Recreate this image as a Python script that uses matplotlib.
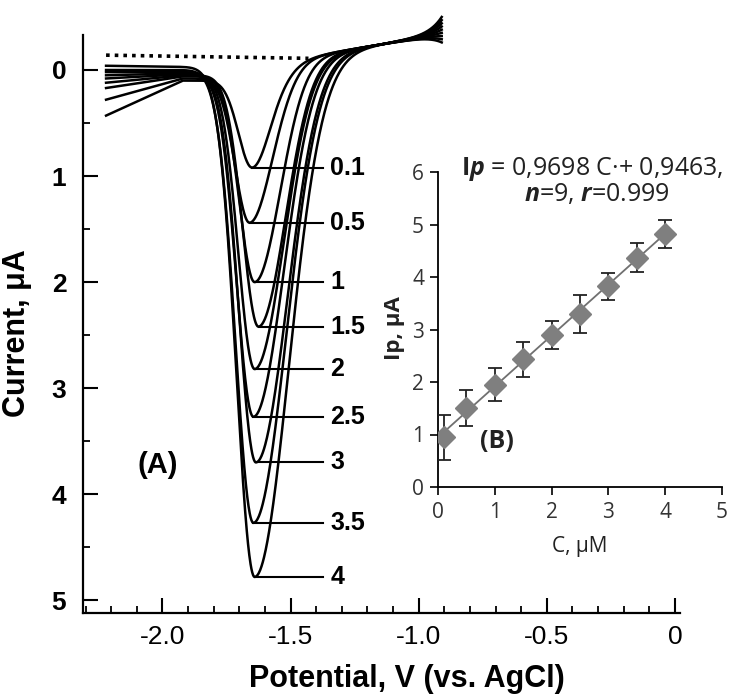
import numpy as np
import matplotlib.pyplot as plt
from matplotlib.ticker import MultipleLocator

# concentrations (uM) and the peaks
conc = [0.1, 0.5, 1, 1.5, 2, 2.5, 3, 3.5, 4]
conc_labels = ['0.1', '0.5', '1', '1.5', '2', '2.5', '3', '3.5', '4']
peak_current = [0.92, 1.44, 2.0, 2.42, 2.82, 3.27, 3.70, 4.27, 4.78]
peak_potential = [-1.65, -1.66, -1.64, -1.625, -1.64, -1.645, -1.635, -1.645, -1.64]
left_width = [0.075, 0.08, 0.085, 0.088, 0.09, 0.093, 0.095, 0.098, 0.10]
right_width = [0.095, 0.12, 0.135, 0.145, 0.155, 0.163, 0.17, 0.178, 0.185]
start_current = [0.43, 0.28, 0.17, 0.12, 0.08, 0.05, 0.02, 0.0, -0.04]
plateau_current = [0.10, 0.08, 0.06, 0.05, 0.04, 0.03, 0.02, 0.0, -0.03]
end_current = [-0.26, -0.29, -0.32, -0.35, -0.38, -0.41, -0.44, -0.47, -0.50]
blank_potential = [-2.22, -1.43]
blank_current = [-0.14, -0.11]

# calibration plot (panel B)
cal_ip = [0.95, 1.50, 1.95, 2.43, 2.90, 3.30, 3.82, 4.37, 4.82]
cal_err = [0.43, 0.34, 0.31, 0.33, 0.27, 0.36, 0.25, 0.27, 0.27]
slope, intercept = 0.9698, 0.9463

inset_font = 'Open Sans'
plt.rcParams['font.family'] = ['Liberation Sans', 'DejaVu Sans']
plt.rcParams['mathtext.fontset'] = 'custom'
plt.rcParams['mathtext.rm'] = inset_font
plt.rcParams['mathtext.it'] = inset_font + ':italic'
plt.rcParams['mathtext.bf'] = inset_font + ':bold'
plt.rcParams['mathtext.bfit'] = inset_font + ':italic:bold'

fig = plt.figure(figsize=(7.3, 6.96), dpi=100)
ax = fig.add_axes([83/730, 83/696, 597/730, 578/696])

E = np.linspace(-2.22, -0.91, 800)
for i in range(len(conc)):
	pre = plateau_current[i] + (start_current[i] - plateau_current[i]) * np.clip((-1.92 - E) / 0.30, 0, None)
	post = -0.12 - 0.4 * (E + 1.45) + (end_current[i] + 0.336) * np.exp((E + 0.91) / 0.05)
	w = 1 / (1 + np.exp(-(E + 1.5) / 0.04))
	base = pre * (1 - w) + post * w
	ep = peak_potential[i]
	b_ep = np.interp(ep, E, base)
	d = E - ep
	width = np.where(d < 0, left_width[i], right_width[i])
	y = base + (peak_current[i] - b_ep) * np.exp(-(d / width) ** 2)
	ax.plot(E, y, color='black', lw=1.8, clip_on=False)
	ax.plot([ep, -1.375], [peak_current[i], peak_current[i]], color='black', lw=1.5)
	ax.text(-1.345, peak_current[i], conc_labels[i], ha='left', va='center',
		fontsize=18, fontweight='bold')

ax.plot(blank_potential, blank_current, color='black', lw=2.6, linestyle=(0, (1, 1.4)))

ax.set_xlim(-2.31, 0.02)
ax.set_ylim(5.12, -0.33)
ax.spines['top'].set_visible(False)
ax.spines['right'].set_visible(False)
ax.spines['left'].set_linewidth(1.6)
ax.spines['bottom'].set_linewidth(1.6)
ax.set_xticks([-2.0, -1.5, -1.0, -0.5, 0])
ax.set_xticklabels(['-2.0', '-1.5', '-1.0', '-0.5', '0'], fontsize=19)
ax.set_yticks([0, 1, 2, 3, 4, 5])
ax.set_yticklabels(['0', '1', '2', '3', '4', '5'], fontsize=19, fontweight='bold')
ax.xaxis.set_minor_locator(MultipleLocator(0.1))
ax.yaxis.set_minor_locator(MultipleLocator(0.5))
ax.tick_params(which='major', direction='in', length=11, width=1.5)
ax.tick_params(which='minor', direction='in', length=5, width=1.3)
ax.tick_params(axis='x', pad=9)
ax.tick_params(axis='y', pad=12)
ax.set_xlabel('Potential, V (vs. AgCl)', fontsize=22, fontweight='bold')
ax.xaxis.set_label_coords(0.543, -0.088)
ax.set_ylabel('Current, μA', fontsize=22, fontweight='bold')
ax.yaxis.set_label_coords(-0.085, 0.484)
ax.text(-2.02, 3.72, '(A)', fontsize=21, fontweight='bold', ha='center', va='center')

# inset B
ins = fig.add_axes([438/730, 209/696, 284/730, 315/696])
ins.patch.set_alpha(0)
cx = np.array([0.0, 4.0])
ins.plot(cx, slope * cx + intercept, color='#707070', lw=1.3, zorder=2)
ins.errorbar(conc, cal_ip, yerr=cal_err, fmt='D', color='#7f7f7f', ms=11,
	ecolor='#222222', elinewidth=1.3, capsize=5, capthick=1.3, zorder=3)
ins.set_xlim(0, 5)
ins.set_ylim(0, 6)
ins.spines['top'].set_visible(False)
ins.spines['right'].set_visible(False)
ins.spines['left'].set_linewidth(1.3)
ins.spines['bottom'].set_linewidth(1.3)
ins.set_xticks(range(6))
ins.set_yticks(range(7))
ins.tick_params(direction='out', length=6, width=1.2, labelsize=15, labelcolor='#333333')
ins.tick_params(axis='x', pad=5)
ins.tick_params(axis='y', pad=4)
for lab in ins.get_xticklabels() + ins.get_yticklabels():
	lab.set_family(inset_font)
ins.set_xlabel('C, μM', fontsize=15, family=inset_font, color='#222222', labelpad=9)
ins.set_ylabel('Ip, μA', fontsize=16, family=inset_font, fontweight='bold', color='#222222')
ins.yaxis.set_label_coords(-0.116, 0.505)
ins.text(2.71, 6.06, r'$\mathbf{I}\mathbfit{p}$ = 0,9698 C·+ 0,9463,', fontsize=18, family=inset_font,
	ha='center', va='center', color='#222222')
ins.text(2.80, 5.58, r'$\mathbfit{n}$=9, $\mathbfit{r}$=0.999', fontsize=18, family=inset_font,
	ha='center', va='center', color='#222222')
ins.text(1.04, 0.86, '(B)', fontsize=18, family=inset_font, fontweight='bold', ha='center', va='center',
	color='#222222')

plt.savefig('out.png', dpi=100)
plt.close()
